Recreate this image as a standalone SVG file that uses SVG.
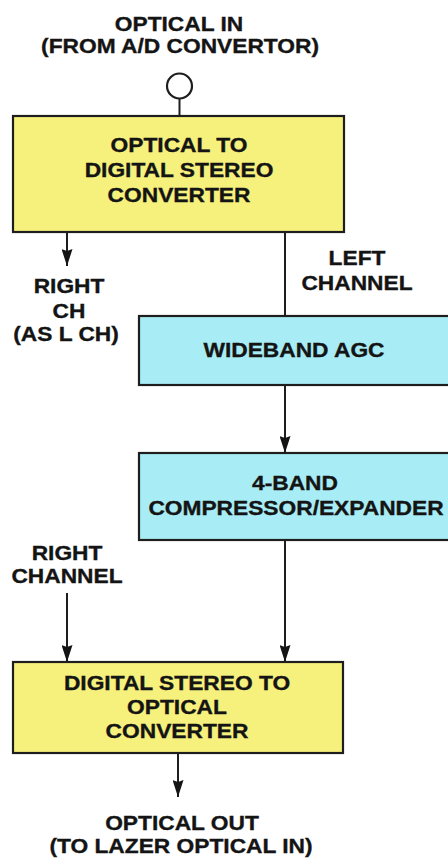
<svg xmlns="http://www.w3.org/2000/svg" width="448" height="858" viewBox="0 0 448 858">
<style>
text{font-family:"Liberation Sans",Arial,sans-serif;font-weight:bold;font-size:20.5px;fill:#141414;stroke:#141414;stroke-width:0.35;text-anchor:middle}
.y{fill:#f6f07c;stroke:#1e1e1e;stroke-width:2.2}
.b{fill:#a8edf5;stroke:#1e1e1e;stroke-width:2.2}
.c line{stroke:#1e1e1e;stroke-width:2}
</style>
<defs>
<marker id="a" viewBox="0 0 17 11" markerWidth="17" markerHeight="11" refX="17" refY="5.5" orient="auto" markerUnits="userSpaceOnUse">
<path d="M0,0 L17,5.5 L0,11 L2,5.5 Z" fill="#141414"/>
</marker>
</defs>
<g id="input-label">
<text transform="translate(179,31) scale(1.11,1)">OPTICAL IN</text>
<text transform="translate(180,53) scale(1.11,1)">(FROM A/D CONVERTOR)</text>
</g>
<g id="input-jack">
<circle cx="179.5" cy="86" r="12.5" fill="#fff" stroke="#1e1e1e" stroke-width="2.2"/>
</g>
<g id="optical-to-digital">
<rect class="y" x="13" y="116" width="331" height="116"/>
<text transform="translate(179,152) scale(1.11,1)">OPTICAL TO</text>
<text transform="translate(179,177) scale(1.11,1)">DIGITAL STEREO</text>
<text transform="translate(179,202) scale(1.11,1)">CONVERTER</text>
</g>
<g id="right-ch-label">
<text transform="translate(69,293) scale(1.11,1)">RIGHT</text>
<text transform="translate(69,318) scale(1.11,1)">CH</text>
<text transform="translate(66,341) scale(1.11,1)">(AS L CH)</text>
</g>
<g id="left-channel-label">
<text transform="translate(357,265) scale(1.11,1)">LEFT</text>
<text transform="translate(357,290) scale(1.11,1)">CHANNEL</text>
</g>
<g id="wideband-agc">
<rect class="b" x="139" y="316" width="320" height="69"/>
<text transform="translate(294,357) scale(1.11,1)">WIDEBAND AGC</text>
</g>
<g id="compressor-expander">
<rect class="b" x="139" y="453" width="320" height="87"/>
<text transform="translate(295,490) scale(1.11,1)">4-BAND</text>
<text transform="translate(296,515) scale(1.11,1)">COMPRESSOR/EXPANDER</text>
</g>
<g id="right-channel-label">
<text transform="translate(67,560) scale(1.11,1)">RIGHT</text>
<text transform="translate(67,583) scale(1.11,1)">CHANNEL</text>
</g>
<g id="digital-to-optical">
<rect class="y" x="13" y="662" width="330" height="91"/>
<text transform="translate(177,690) scale(1.11,1)">DIGITAL STEREO TO</text>
<text transform="translate(177,714) scale(1.11,1)">OPTICAL</text>
<text transform="translate(177,738) scale(1.11,1)">CONVERTER</text>
</g>
<g id="output-label">
<text transform="translate(182,830) scale(1.11,1)">OPTICAL OUT</text>
<text transform="translate(181,853) scale(1.11,1)">(TO LAZER OPTICAL IN)</text>
</g>
<g class="c" id="connectors">
<line x1="179.5" y1="98.5" x2="179.5" y2="116"/>
<line x1="67" y1="233" x2="67" y2="266" marker-end="url(#a)"/>
<line x1="285" y1="233" x2="285" y2="316"/>
<line x1="285" y1="386" x2="285" y2="453" marker-end="url(#a)"/>
<line x1="285" y1="541" x2="285" y2="662" marker-end="url(#a)"/>
<line x1="67" y1="593" x2="67" y2="662" marker-end="url(#a)"/>
<line x1="178" y1="754" x2="178" y2="797" marker-end="url(#a)"/>
</g>
</svg>
